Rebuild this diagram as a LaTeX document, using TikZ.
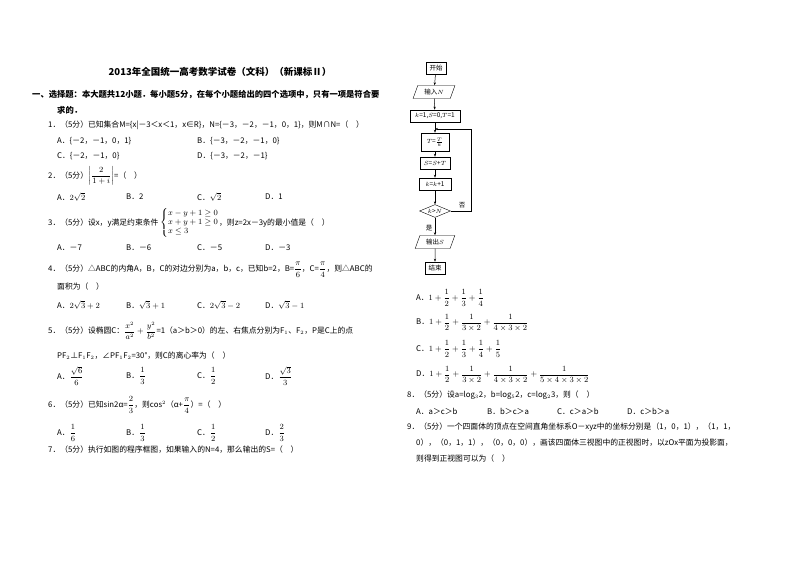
\documentclass[tikz,border=0pt]{standalone}
\usepackage{amsmath}
\usepackage{fontspec}
\setmainfont{Noto Sans CJK SC}
\usetikzlibrary{shapes.geometric,arrows.meta}
\begin{document}
\begin{tikzpicture}[x=1pt,y=-1pt,
  t/.style={anchor=west,inner sep=0pt,font=\fontsize{7.8}{9}\selectfont},
  fb/.style={draw,line width=0.5pt,inner sep=1.5pt,font=\fontsize{6.5}{7}\selectfont,minimum height=12pt},
  pg/.style={draw,trapezium,trapezium left angle=70,trapezium right angle=110,inner sep=1.5pt,font=\fontsize{6.5}{7}\selectfont,minimum height=13pt},
  ar/.style={-{Stealth[length=3pt]},line width=0.5pt}]
\useasboundingbox (0,0) rectangle (800,565);
\node[inner sep=0pt,font=\fontsize{9.5}{11}\selectfont\bfseries] (title) at (220,72) {2013年全国统一高考数学试卷（文科）（新课标Ⅱ）};
\node[t,font=\fontsize{8.3}{9}\selectfont\bfseries] (h1) at (32,95) {一、选择题：本大题共12小题．每小题5分，在每个小题给出的四个选项中，只有一项是符合要};
\node[t,font=\fontsize{8.3}{9}\selectfont\bfseries] (h2) at (57,110) {求的．};
\node[t] (q1) at (48,125) {1．（5分）已知集合M=\{x|－3＜x＜1，x∈R\}，N=\{－3，－2，－1，0，1\}，则M∩N=（\quad ）};
\node[t] (q1a) at (57,141) {A．\{－2，－1，0，1\}};
\node[t] (q1b) at (197,141) {B．\{－3，－2，－1，0\}};
\node[t] (q1c) at (57,156) {C．\{－2，－1，0\}};
\node[t] (q1d) at (197,156) {D．\{－3，－2，－1\}};
\node[t] (q2) at (48,176) {2．（5分）$\left|\dfrac{2}{1+i}\right|$=（\quad ）};
\node[t] (q2a) at (57,197) {A．$2\sqrt{2}$};
\node[t] (q2b) at (126,197) {B．2};
\node[t] (q2c) at (197,197) {C．$\sqrt{2}$};
\node[t] (q2d) at (265,197) {D．1};
\node[t] (q3) at (48,223) {3．（5分）设x，y满足约束条件 $\left\{\begin{array}{@{}l@{}}x-y+1\geq0\\ x+y+1\geq0\\ x\leq3\end{array}\right.$，则z=2x－3y的最小值是（\quad ）};
\node[t] (q3a) at (57,248) {A．－7};
\node[t] (q3b) at (126,248) {B．－6};
\node[t] (q3c) at (197,248) {C．－5};
\node[t] (q3d) at (265,248) {D．－3};
\node[t] (q4) at (48,270) {4．（5分）△ABC的内角A，B，C的对边分别为a，b，c，已知b=2，B=$\dfrac{\pi}{6}$，C=$\dfrac{\pi}{4}$，则△ABC的};
\node[t] (q4b2) at (57,287) {面积为（\quad ）};
\node[t] (q4a) at (57,305) {A．$2\sqrt{3}+2$};
\node[t] (q4bb) at (126,305) {B．$\sqrt{3}+1$};
\node[t] (q4c) at (197,305) {C．$2\sqrt{3}-2$};
\node[t] (q4d) at (265,305) {D．$\sqrt{3}-1$};
\node[t] (q5) at (48,331) {5．（5分）设椭圆C：$\dfrac{x^2}{a^2}+\dfrac{y^2}{b^2}$=1（a＞b＞0）的左、右焦点分别为F$_1$、F$_2$，P是C上的点};
\node[t] (q5b) at (57,356) {PF$_2$⊥F$_1$F$_2$，∠PF$_1$F$_2$=30°，则C的离心率为（\quad ）};
\node[t] (q5a1) at (57,376) {A．$\dfrac{\sqrt{6}}{6}$};
\node[t] (q5b1) at (126,376) {B．$\dfrac{1}{3}$};
\node[t] (q5c1) at (197,376) {C．$\dfrac{1}{2}$};
\node[t] (q5d1) at (265,376) {D．$\dfrac{\sqrt{3}}{3}$};
\node[t] (q6) at (48,405) {6．（5分）已知sin2α=$\dfrac{2}{3}$，则cos$^2$（α+$\dfrac{\pi}{4}$）=（\quad ）};
\node[t] (q6a) at (57,433) {A．$\dfrac{1}{6}$};
\node[t] (q6b) at (126,433) {B．$\dfrac{1}{3}$};
\node[t] (q6c) at (197,433) {C．$\dfrac{1}{2}$};
\node[t] (q6d) at (265,433) {D．$\dfrac{2}{3}$};
\node[t] (q7) at (48,450) {7．（5分）执行如图的程序框图，如果输入的N=4，那么输出的S=（\quad ）};
% flowchart
\node[fb,minimum width=20pt] (st) at (436,68) {开始};
\node[pg,minimum width=30pt] (in) at (434,92) {输入$N$};
\node[fb,minimum width=50pt,line width=0.8pt] (init) at (435,116) {$k$=1,$S$=0,$T$=1};
\node[fb,minimum width=28pt,minimum height=18pt] (tt) at (435,142) {$T$=$\frac{T}{k}$};
\node[fb,minimum width=30pt] (ss) at (435,163) {$S$=$S$+$T$};
\node[fb,minimum width=32pt] (kk) at (435,184) {$k$=$k$+1};
\node[draw,diamond,aspect=2.4,inner sep=1pt,font=\fontsize{6.5}{7}\selectfont] (dd) at (435,211) {$k$>$N$};
\node[pg,minimum width=30pt] (out) at (435,242) {输出$S$};
\node[fb,minimum width=20pt] (en) at (435,268) {结束};
\coordinate (j) at (435,129);
\coordinate (r1) at (471,211);
\coordinate (r2) at (471,129);
\draw[ar] (st) -- (in);
\draw[ar] (in) -- (init);
\draw[ar] (init) -- (tt);
\draw[ar] (tt) -- (ss);
\draw[ar] (ss) -- (kk);
\draw[ar] (kk) -- (dd);
\draw[ar] (dd) -- (out);
\draw[ar] (out) -- (en);
\draw[ar] (dd.east) -- (r1) -- (r2) -- (j);
\node[font=\fontsize{6.5}{7}\selectfont,inner sep=0pt] (no) at (462,205) {否};
\node[font=\fontsize{6.5}{7}\selectfont,inner sep=0pt] (yes) at (429,228) {是};
% right column
\node[t] (ra) at (416,298) {A．$1+\dfrac{1}{2}+\dfrac{1}{3}+\dfrac{1}{4}$};
\node[t] (rb) at (416,323) {B．$1+\dfrac{1}{2}+\dfrac{1}{3\times2}+\dfrac{1}{4\times3\times2}$};
\node[t] (rc) at (416,349) {C．$1+\dfrac{1}{2}+\dfrac{1}{3}+\dfrac{1}{4}+\dfrac{1}{5}$};
\node[t] (rd) at (416,375) {D．$1+\dfrac{1}{2}+\dfrac{1}{3\times2}+\dfrac{1}{4\times3\times2}+\dfrac{1}{5\times4\times3\times2}$};
\node[t] (q8) at (407,395) {8．（5分）设a=log$_3$2，b=log$_5$2，c=log$_2$3，则（\quad ）};
\node[t] (q8a) at (416,411) {A．a＞c＞b};
\node[t] (q8b) at (487,411) {B．b＞c＞a};
\node[t] (q8c) at (557,411) {C．c＞a＞b};
\node[t] (q8d) at (627,411) {D．c＞b＞a};
\node[t] (q9) at (407,427) {9．（5分）一个四面体的顶点在空间直角坐标系O－xyz中的坐标分别是（1，0，1），（1，1，};
\node[t] (q9b) at (416,443) {0），（0，1，1），（0，0，0），画该四面体三视图中的正视图时，以zOx平面为投影面，};
\node[t] (q9c) at (416,459) {则得到正视图可以为（\quad ）};
\end{tikzpicture}
\end{document}
